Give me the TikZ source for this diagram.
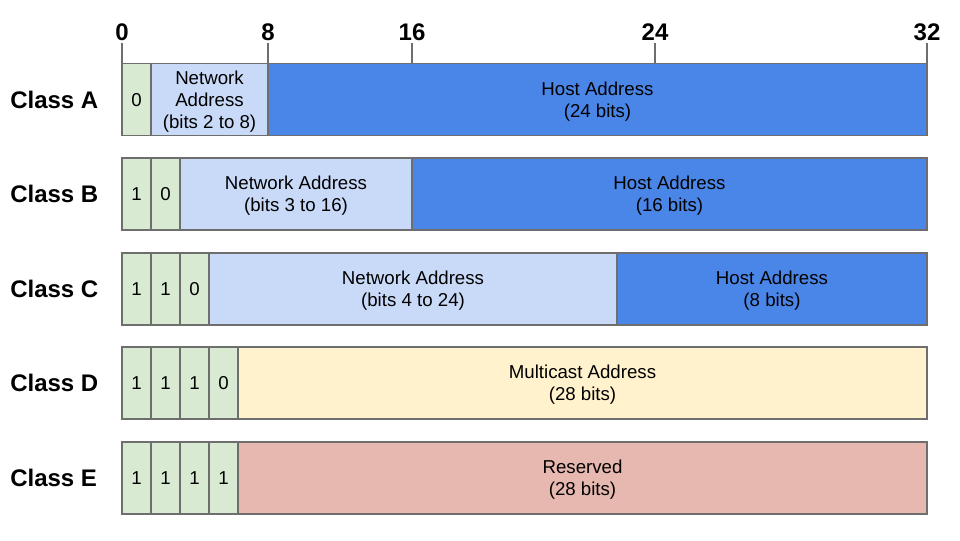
\documentclass[tikz,border=0pt]{standalone}
\usepackage{fontspec}
\setmainfont{Liberation Sans}
\definecolor{bitgreen}{HTML}{D9EAD3}
\definecolor{netblue}{HTML}{C9DAF8}
\definecolor{hostblue}{HTML}{4A86E8}
\definecolor{mcyellow}{HTML}{FFF2CC}
\definecolor{resred}{HTML}{E6B8AF}
\definecolor{edgegray}{HTML}{6E6E6E}

\begin{document}
\begin{tikzpicture}[x=0.75pt, y=-0.75pt,
  field/.style={draw=edgegray, line width=1pt, inner sep=0pt, align=center,
    minimum height=54pt, text depth=0pt, font=\fontsize{14}{16.5}\selectfont},
  cellw/.style={minimum width=#1*0.75pt},
  bit/.style={field, cellw=29, fill=bitgreen},
  classname/.style={anchor=west, inner sep=0pt, font=\fontsize{18}{21}\selectfont\bfseries},
  ticklabel/.style={anchor=base, inner sep=2pt, font=\fontsize{18}{21}\selectfont\bfseries},
  tickline/.style={draw=edgegray, line width=0.8pt}]
\useasboundingbox (0,0) rectangle (960,540);
%%%%% Class A %%%%%
\node[classname] (nameA) at (10,99.5) {Class A};
\node[bit] (a1) at (136.5,99.5) {0};
\node[field, cellw=117, fill=netblue] (anet) at (209.5,99.5) {Network\\Address\\(bits 2 to 8)};
\node[field, cellw=659, fill=hostblue] (ahost) at (597.5,99.5) {Host Address\\(24 bits)};
%%%%% Class B %%%%%
\node[classname] (nameB) at (10,194) {Class B};
\node[bit] (b1) at (136.5,194) {1};
\node[bit] (b2) at (165.5,194) {0};
\node[field, cellw=232, fill=netblue] (bnet) at (296,194) {Network Address\\(bits 3 to 16)};
\node[field, cellw=515, fill=hostblue] (bhost) at (669.5,194) {Host Address\\(16 bits)};
%%%%% Class C %%%%%
\node[classname] (nameC) at (10,289) {Class C};
\node[bit] (c1) at (136.5,289) {1};
\node[bit] (c2) at (165.5,289) {1};
\node[bit] (c3) at (194.5,289) {0};
\node[field, cellw=408, fill=netblue] (cnet) at (413,289) {Network Address\\(bits 4 to 24)};
\node[field, cellw=310, fill=hostblue] (chost) at (772,289) {Host Address\\(8 bits)};
%%%%% Class D %%%%%
\node[classname] (nameD) at (10,383) {Class D};
\node[bit] (d1) at (136.5,383) {1};
\node[bit] (d2) at (165.5,383) {1};
\node[bit] (d3) at (194.5,383) {1};
\node[bit] (d4) at (223.5,383) {0};
\node[field, cellw=689, fill=mcyellow] (dmc) at (582.5,383) {Multicast Address\\(28 bits)};
%%%%% Class E %%%%%
\node[classname] (nameE) at (10,478) {Class E};
\node[bit] (e1) at (136.5,478) {1};
\node[bit] (e2) at (165.5,478) {1};
\node[bit] (e3) at (194.5,478) {1};
\node[bit] (e4) at (223.5,478) {1};
\node[field, cellw=689, fill=resred] (eres) at (582.5,478) {Reserved\\(28 bits)};
%%%%% Ticks %%%%%
\node[ticklabel] (t0) at (122,40) {0};
\node[ticklabel] (t8) at (268,40) {8};
\node[ticklabel] (t16) at (412,40) {16};
\node[ticklabel] (t24) at (655,40) {24};
\node[ticklabel] (t32) at (927,40) {32};
\draw[tickline] (t0.south) -- (t0.south |- a1.north);
\draw[tickline] (t8.south) -- (t8.south |- anet.north);
\draw[tickline] (t16.south) -- (t16.south |- ahost.north);
\draw[tickline] (t24.south) -- (t24.south |- ahost.north);
\draw[tickline] (t32.south) -- (t32.south |- ahost.north);
\end{tikzpicture}
\end{document}
